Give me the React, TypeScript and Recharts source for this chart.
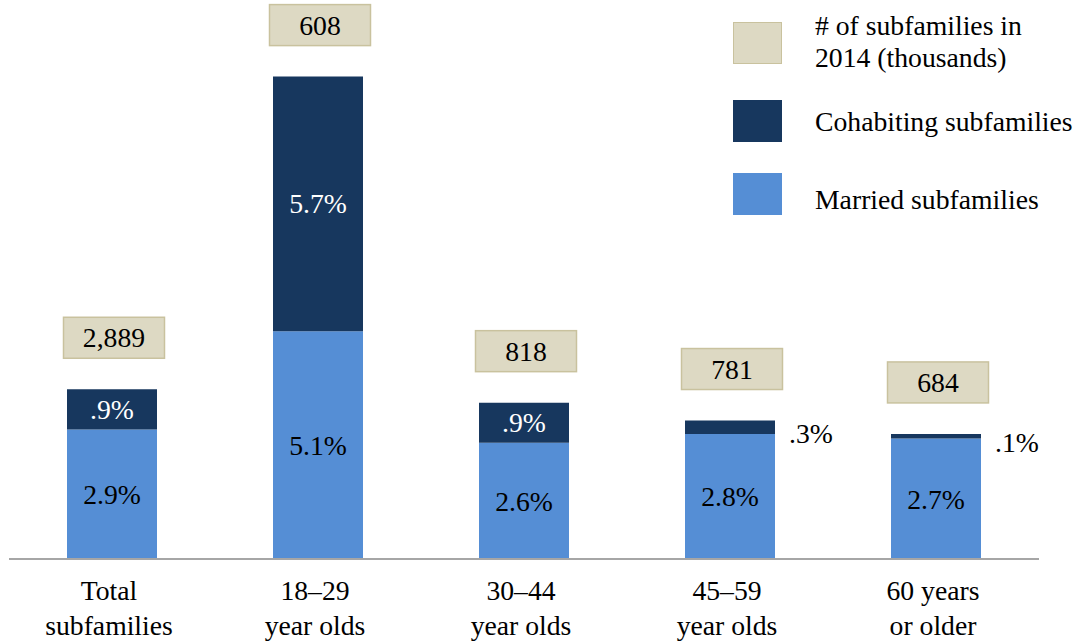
import { BarChart, Bar, XAxis, YAxis, LabelList } from "recharts";

// categories (two lines each)
const groupLine1 = ["Total", "18\u201329", "30\u201344", "45\u201359", "60 years"];
const groupLine2 = ["subfamilies", "year olds", "year olds", "year olds", "or older"];

// shares of adults, percent
const married = [2.9, 5.1, 2.6, 2.8, 2.7];
const cohabiting = [0.9, 5.7, 0.9, 0.3, 0.1];

// number of subfamilies in 2014, thousands
const subfamilyCounts = ["2,889", "608", "818", "781", "684"];

const legendItems = [
  { lines: ["# of subfamilies in", "2014 (thousands)"], color: "#DDD9C3", border: "#C9C29E" },
  { lines: ["Cohabiting subfamilies"], color: "#17375E", border: "#17375E" },
  { lines: ["Married subfamilies"], color: "#558ED5", border: "#558ED5" },
];

const data = groupLine1.map((g, i) => ({
  name: g,
  married: married[i],
  cohabiting: cohabiting[i],
  count: subfamilyCounts[i],
}));

const FONT = "'Liberation Serif', 'Times New Roman', serif";
const FS = 27.7;
const fmt = (v: number) => String(v).replace(/^0/, "") + "%";

const CategoryTick = (props: any) => {
  const { x, y, payload, index } = props;
  return (
    <text x={x} y={y} textAnchor="middle" fontFamily={FONT} fontSize={FS} fill="#000">
      <tspan x={x - 3} dy={33}>{payload.value}</tspan>
      <tspan x={x - 3} dy={35}>{groupLine2[index]}</tspan>
    </text>
  );
};

const CohabLabel = (props: any) => {
  const { x, y, width, height, value } = props;
  if (value < 0.5) {
    return (
      <text x={x + width + 14} y={y + height / 2 + 6} fontFamily={FONT} fontSize={FS} fill="#000" dominantBaseline="central">
        {fmt(value)}
      </text>
    );
  }
  return (
    <text x={x + width / 2} y={y + height / 2} textAnchor="middle" dominantBaseline="central" fontFamily={FONT} fontSize={FS} fill="#fff">
      {fmt(value)}
    </text>
  );
};

const CountBox = (props: any) => {
  const { x, y, width, value } = props;
  const cx = x + width / 2 + 2;
  const bw = 101;
  const bh = 41;
  const top = y - 31 - bh;
  return (
    <g>
      <rect x={cx - bw / 2} y={top} width={bw} height={bh} fill="#DDD9C3" stroke="#C9C29E" strokeWidth={1.5} />
      <text x={cx} y={top + bh / 2} textAnchor="middle" dominantBaseline="central" fontFamily={FONT} fontSize={FS} fill="#000">
        {value}
      </text>
    </g>
  );
};

const ChartLegend = () => {
  const tops = [22, 100, 173];
  const textTops = [10, 106, 184];
  return (
    <div style={{ fontFamily: FONT, fontSize: FS, color: "#000", position: "absolute", left: 733, top: 0, width: 350, height: 230 }}>
      {legendItems.map((item, i) => (
        <div key={i}>
          <div
            style={{
              position: "absolute",
              left: 0,
              top: tops[i],
              width: 47,
              height: 40,
              background: item.color,
              border: `1px solid ${item.border}`,
            }}
          />
          <div style={{ position: "absolute", left: 82, top: textTops[i], lineHeight: "32px", whiteSpace: "nowrap" }}>
            {item.lines.map((l) => (
              <div key={l}>{l}</div>
            ))}
          </div>
        </div>
      ))}
    </div>
  );
};

export default function App() {
  return (
    <div style={{ position: "absolute", left: 0, top: 0, width: 1084, height: 643, background: "#fff" }}>
      <BarChart
        width={1084}
        height={643}
        data={data}
        barSize={90}
        margin={{ top: 23, right: 45, left: 9, bottom: 4 }}
      >
        <XAxis
          dataKey="name"
          height={80}
          tickLine={false}
          axisLine={{ stroke: "#A6A6A6", strokeWidth: 2 }}
          tick={<CategoryTick />}
          interval={0}
        />
        <YAxis hide domain={[0, 12]} />
        <Bar dataKey="married" stackId="a" fill="#558ED5" isAnimationActive={false}>
          <LabelList
            dataKey="married"
            position="center"
            formatter={(v: any) => fmt(v)}
            style={{ fontFamily: FONT, fontSize: FS, fill: "#000" }}
          />
        </Bar>
        <Bar dataKey="cohabiting" stackId="a" fill="#17375E" isAnimationActive={false}>
          <LabelList dataKey="cohabiting" content={<CohabLabel />} />
          <LabelList dataKey="count" content={<CountBox />} />
        </Bar>
      </BarChart>
      <ChartLegend />
    </div>
  );
}
